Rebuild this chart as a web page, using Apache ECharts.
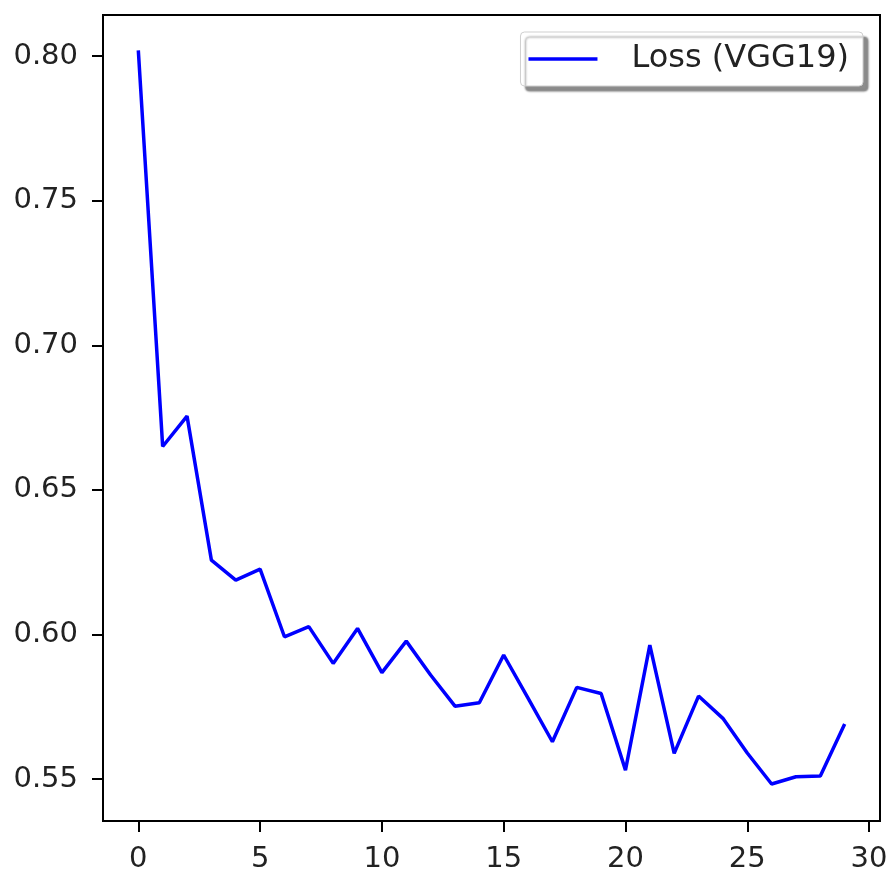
<!DOCTYPE html>
<html>
<head>
<meta charset="utf-8">
<script src="https://cdn.jsdelivr.net/npm/echarts@6/dist/echarts.min.js"></script>
<style>
  html, body { margin: 0; padding: 0; background: #fff; }
  #chart { width: 891px; height: 880px; }
</style>
</head>
<body>
<div id="chart"></div>
<script>
// epochs and loss values
const epochs = [0, 1, 2, 3, 4, 5, 6, 7, 8, 9, 10, 11, 12, 13, 14, 15, 16, 17, 18, 19, 20, 21, 22, 23, 24, 25, 26, 27, 28, 29]
const lossVGG19 = [0.802, 0.665, 0.6755, 0.6257, 0.6188, 0.6226, 0.5992, 0.6027, 0.590, 0.6021,
  0.5868, 0.5977, 0.586, 0.5752, 0.5764, 0.5929, 0.578, 0.5629, 0.5817, 0.5796,
  0.5531, 0.5963, 0.5589, 0.5787, 0.571, 0.559, 0.5483, 0.5508, 0.5511, 0.569]
const xTicks = [0, 5, 10, 15, 20, 25, 30]
const yTicks = [0.55, 0.6, 0.65, 0.7, 0.75, 0.8]
const seriesName = 'Loss (VGG19)'

const chart = echarts.init(document.getElementById('chart'))
const font = 'DejaVu Sans'

chart.setOption({
  animation: false,
  textStyle: { fontFamily: font },
  grid: {
    left: 103,
    right: 11,
    top: 15,
    bottom: 59,
    show: true,
    borderColor: '#000',
    borderWidth: 2,
    backgroundColor: '#fff'
  },
  legend: {
    top: 32,
    right: 28,
    padding: [11, 14, 11, 8],
    backgroundColor: '#fff',
    borderColor: '#cfcfcf',
    borderWidth: 1,
    borderRadius: 4,
    shadowColor: 'rgba(0,0,0,0.45)',
    shadowBlur: 2,
    shadowOffsetX: 5,
    shadowOffsetY: 5,
    icon: 'rect',
    itemWidth: 69,
    itemHeight: 3.5,
    textStyle: {
      fontFamily: font,
      fontSize: 32,
      color: '#222',
      padding: [0, 0, 0, 29]
    },
    data: [seriesName]
  },
  xAxis: {
    type: 'value',
    min: -1.45,
    max: 30.45,
    axisLine: { show: false, onZero: false },
    axisTick: {
      show: true,
      length: 11,
      customValues: xTicks,
      lineStyle: { color: '#000', width: 2 }
    },
    axisLabel: {
      customValues: xTicks,
      margin: 24,
      fontSize: 29,
      color: '#222',
      fontFamily: font
    },
    splitLine: { show: false }
  },
  yAxis: {
    type: 'value',
    min: 0.5355,
    max: 0.8142,
    axisLine: { show: false, onZero: false },
    axisTick: {
      show: true,
      length: 11,
      customValues: yTicks,
      lineStyle: { color: '#000', width: 2 }
    },
    axisLabel: {
      customValues: yTicks,
      margin: 25,
      fontSize: 29,
      color: '#222',
      fontFamily: font,
      formatter(v) {
        return v.toFixed(2)
      }
    },
    splitLine: { show: false }
  },
  series: [
    {
      name: seriesName,
      type: 'line',
      symbol: 'none',
      lineStyle: { color: '#0000ff', width: 3.5 },
      itemStyle: { color: '#0000ff' },
      data: epochs.map((e, i) => [e, lossVGG19[i]])
    }
  ]
})
</script>
</body>
</html>
